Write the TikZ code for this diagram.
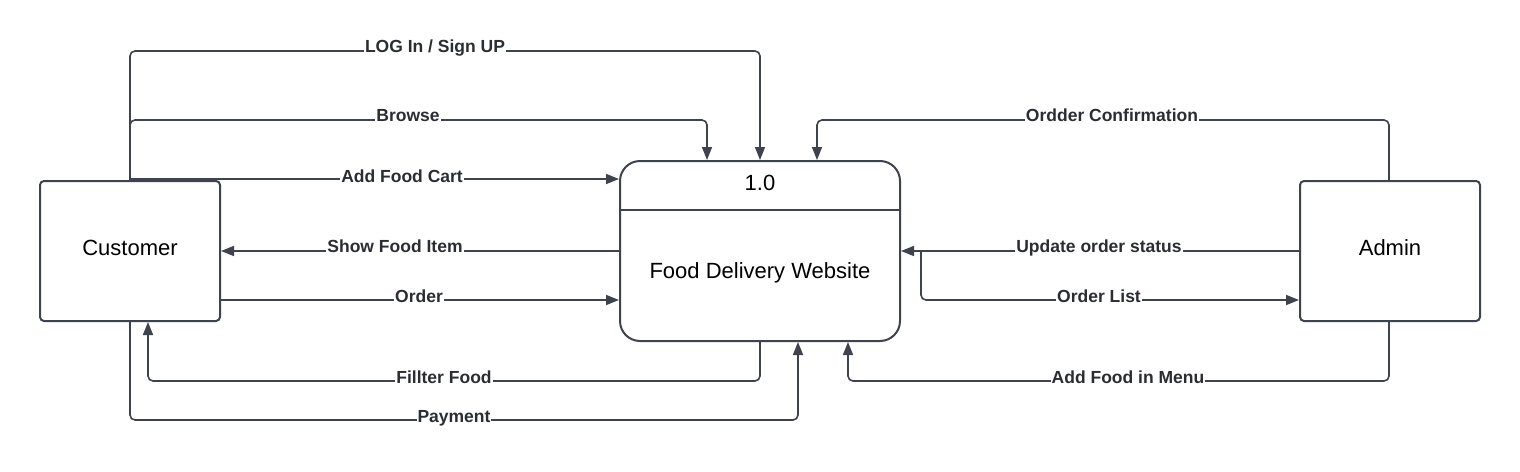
\documentclass[tikz,border=0pt]{standalone}
\usepackage{fontspec}
\setmainfont{Liberation Sans}
\usetikzlibrary{arrows.meta}
\definecolor{ln}{HTML}{3E434E}
\definecolor{tx}{HTML}{2B2D33}
\tikzset{
  box/.style={draw=ln, line width=2pt, fill=white, rounded corners=4pt, minimum width=180pt, minimum height=140pt, inner sep=0pt},
  procbox/.style={draw=ln, line width=2pt, fill=white, rounded corners=20pt, minimum width=280pt, minimum height=180pt, inner sep=0pt},
  flow/.style={draw=ln, line width=1.6pt, rounded corners=5pt, -{Triangle[length=13pt,width=10pt]}},
  lbl/.style={fill=white, inner sep=1pt, text=tx, font=\fontsize{17.5}{20}\bfseries\selectfont, text height=12.5pt, text depth=3.5pt},
  ptxt/.style={text=black, font=\fontsize{22}{26}\selectfont, inner sep=0pt}
}
\begin{document}
\begin{tikzpicture}[x=1pt,y=-1pt]
\useasboundingbox (0,0) rectangle (1520,471);
\node[box] (cust) at (130,251) {};
\node[procbox] (proc) at (760,251) {};
\node[box] (adm) at (1390,251) {};
\node[ptxt] (custname) at (130,248) {Customer};
\node[ptxt] (admname) at (1390,248) {Admin};
\coordinate (divL) at (620,210);
\coordinate (divR) at (900,210);
\draw[ln, line width=2pt] (divL) -- (divR);
\node[ptxt] (pnum) at (760,183) {1.0};
\node[ptxt] (pname) at (760,273) {Food Delivery Website};

% customer flows
\draw[flow] (cust.north) -- (130,51) -| (proc.north);
\draw[flow] (cust.north) -- (130,120) -| ([xshift=-53pt]proc.north);
\draw[flow, rounded corners=0pt] ([yshift=1pt]cust.north) -- ([yshift=1pt]proc.west |- cust.north);
\draw[flow] (proc.west) -- (cust.east);
\draw[flow] ([yshift=-49pt]cust.east) -- ([yshift=-49pt]proc.west);
\draw[flow] (proc.south) -- (760,381) -| ([xshift=18pt]cust.south);
\draw[flow] (cust.south) -- (130,420) -| ([xshift=38pt]proc.south);

% admin flows
\draw[flow] ([xshift=-1pt]adm.north) -- (1389,120) -| ([xshift=57pt]proc.north);
\draw[flow] (adm.west) -- (proc.east);
\coordinate (olstart) at (921,251);
\draw[flow] (olstart) -- (921,300) -- ([yshift=-49pt]adm.west);
\draw[flow] ([xshift=-1pt]adm.south) -- (1389,381) -| ([xshift=88pt]proc.south);

% labels
\node[lbl] (l1) at (435,48) {LOG In / Sign UP};
\node[lbl] (l2) at (408,117) {Browse};
\node[lbl] (l3) at (402,178) {Add Food Cart};
\node[lbl] (l4) at (395,248) {Show Food Item};
\node[lbl] (l5) at (419,298) {Order};
\node[lbl] (l6) at (444,379) {Fillter Food};
\node[lbl] (l7) at (454,418) {Payment};
\node[lbl] (l8) at (1112,117) {Ordder Confirmation};
\node[lbl] (l9) at (1099,248) {Update order status};
\node[lbl] (l10) at (1099,298) {Order List};
\node[lbl] (l11) at (1128,379) {Add Food in Menu};
\end{tikzpicture}
\end{document}
